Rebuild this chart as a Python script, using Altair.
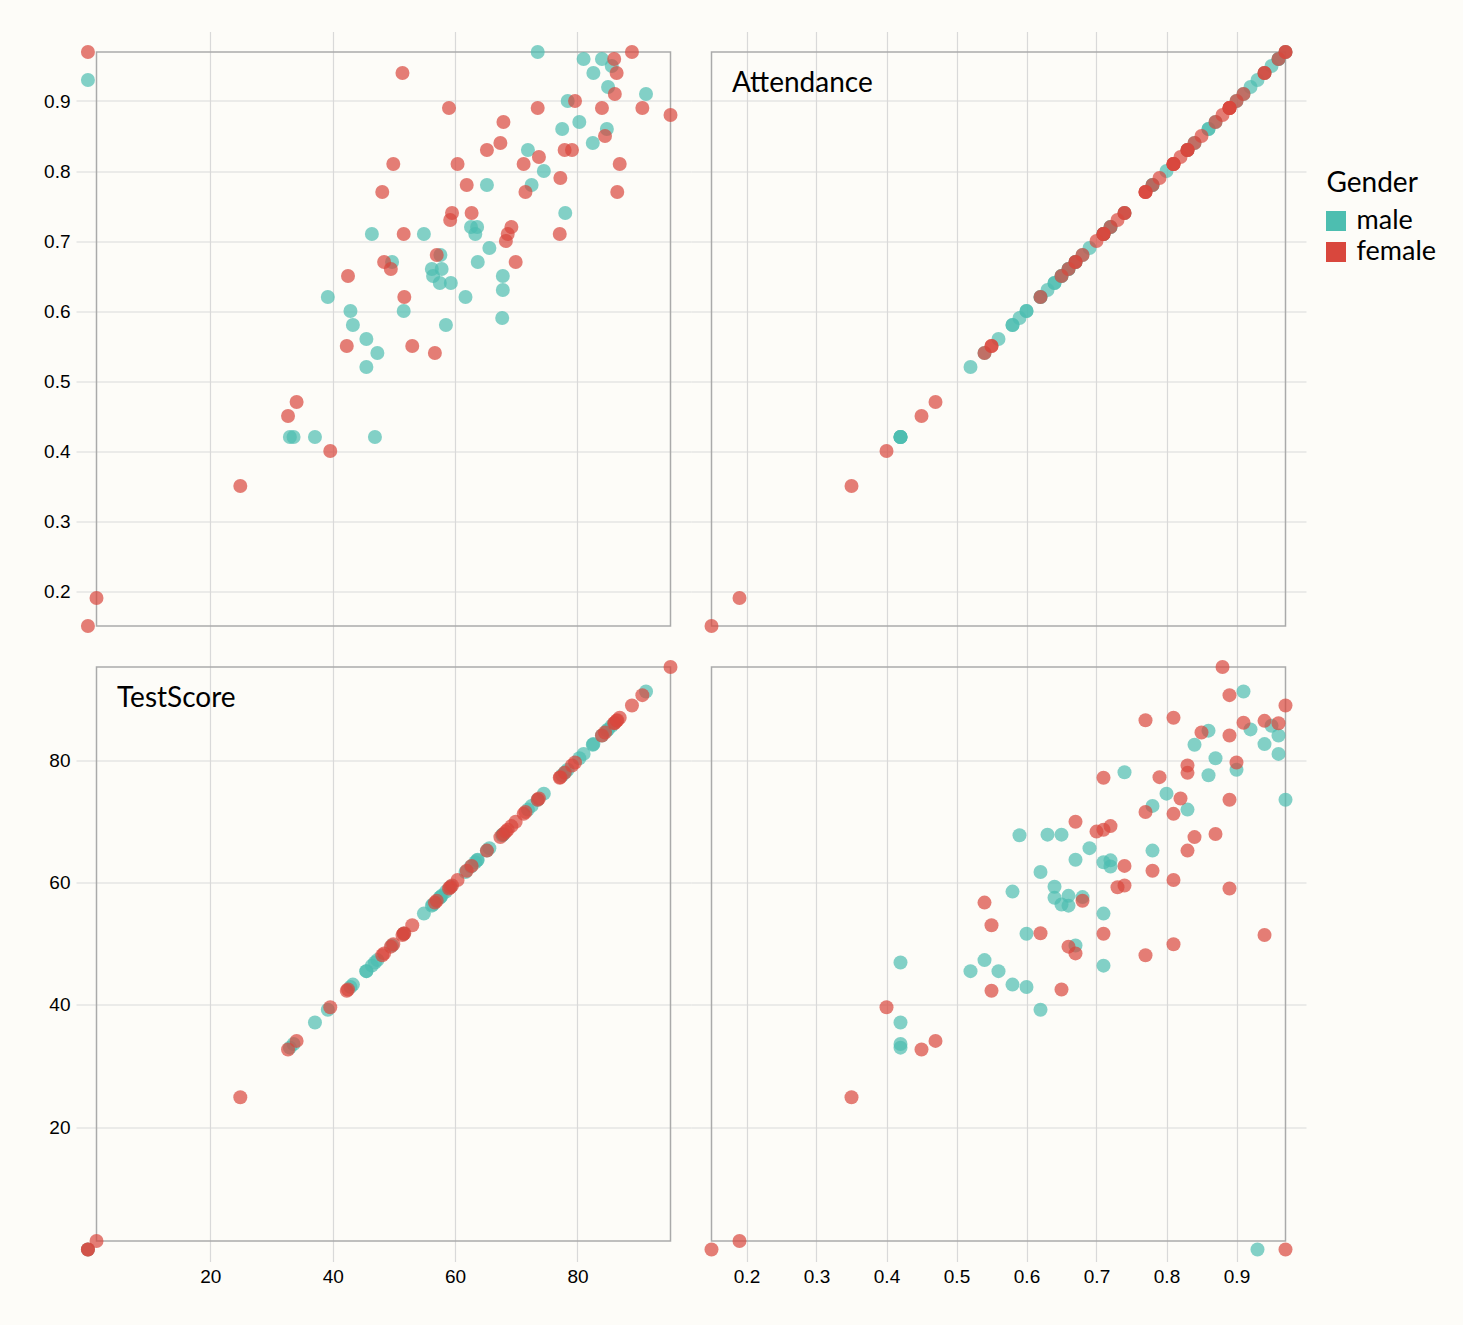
import altair as alt
import pandas as pd

# ---------------- data ----------------
GENDERS = ["male", "female"]

male_ts = [0, 46.4, 39.2, 42.9, 43.3, 45.5, 47.3, 45.5, 33.0, 33.6,
           37.1, 46.9, 73.5, 81.0, 84.0, 85.6, 82.6, 85.0, 91.2, 78.4,
           80.3, 77.5, 84.8, 82.5, 71.9, 74.5, 65.2, 72.5, 78.0, 62.6,
           63.6, 63.3, 54.9, 65.6, 63.7, 57.6, 49.7, 56.2, 57.8, 56.4,
           57.5, 59.3, 67.8, 67.8, 61.7, 51.6, 58.5, 67.7]
male_att = [0.93, 0.71, 0.62, 0.60, 0.58, 0.56, 0.54, 0.52, 0.42, 0.42,
            0.42, 0.42, 0.97, 0.96, 0.96, 0.95, 0.94, 0.92, 0.91, 0.90,
            0.87, 0.86, 0.86, 0.84, 0.83, 0.80, 0.78, 0.78, 0.74, 0.72,
            0.72, 0.71, 0.71, 0.69, 0.67, 0.68, 0.67, 0.66, 0.66, 0.65,
            0.64, 0.64, 0.65, 0.63, 0.62, 0.60, 0.58, 0.59]

female_ts = [0, 48.1, 48.4, 42.5, 42.3, 34.1, 32.7, 39.6, 24.9, 1.4,
             0, 53.0, 56.7, 86.0, 88.9, 86.4, 51.4, 86.1, 79.6, 59.0,
             73.5, 84.0, 90.6, 95.2, 67.9, 84.5, 67.4, 65.2, 77.9, 79.1,
             73.7, 49.9, 60.4, 71.2, 86.9, 77.2, 61.9, 71.5, 86.5, 62.7,
             59.5, 59.2, 69.2, 68.6, 77.1, 51.6, 68.3, 69.9, 57.0, 49.5,
             51.7]
female_att = [0.97, 0.77, 0.67, 0.65, 0.55, 0.47, 0.45, 0.40, 0.35, 0.19,
              0.15, 0.55, 0.54, 0.96, 0.97, 0.94, 0.94, 0.91, 0.90, 0.89,
              0.89, 0.89, 0.89, 0.88, 0.87, 0.85, 0.84, 0.83, 0.83, 0.83,
              0.82, 0.81, 0.81, 0.81, 0.81, 0.79, 0.78, 0.77, 0.77, 0.74,
              0.74, 0.73, 0.72, 0.71, 0.71, 0.71, 0.70, 0.67, 0.68, 0.66,
              0.62]

TS_TICKS = [20, 40, 60, 80]
ATT_TICKS = [0.2, 0.3, 0.4, 0.5, 0.6, 0.7, 0.8, 0.9]

df = pd.DataFrame({
    "TestScore": male_ts + female_ts,
    "Attendance": male_att + female_att,
    "Gender": ["male"] * len(male_ts) + ["female"] * len(female_ts),
})

# ---------------- styling ----------------
CELL = 615
INSET = 20.5
BG = "#fdfcf8"
TEAL = "#4dbeb0"
RED = "#d9473d"
GRID = "#d9d9d9"
FRAME = "#aaaaaa"

all_ts = male_ts + female_ts
all_att = male_att + female_att
# frame = extent of recorded values (zero scores are missing entries)
FRAME_EXT = {
    "TestScore": (min(v for v in all_ts if v > 0), max(all_ts)),
    "Attendance": (min(all_att), max(all_att)),
}
TICKS = {"TestScore": TS_TICKS, "Attendance": ATT_TICKS}


def cell_domain(trait):
    lo, hi = FRAME_EXT[trait]
    ext = (hi - lo) * INSET / (CELL - 2 * INSET)
    return [lo - ext, hi + ext]


def make_axis(trait, show, orient):
    return alt.Axis(
        values=TICKS[trait], title=None, orient=orient,
        grid=True, gridColor=GRID, gridWidth=1.2,
        domain=False, ticks=False, labels=show,
        labelFont="Liberation Sans", labelFontSize=19, labelColor="#000",
        labelPadding=6,
        labelFlush=False, labelOverlap=False,
    )


legend = alt.Legend(
    title="Gender", orient="none", legendX=1250.5, legendY=138,
    symbolType="square", symbolSize=400, symbolOpacity=1, symbolStrokeWidth=0,
    symbolOffset=-4,
    titleFont="Lato", titleFontSize=28, titleFontWeight="normal", titleColor="#000",
    labelFont="Lato", labelFontSize=27, labelColor="#000",
    labelOffset=7, rowPadding=3, titlePadding=10, padding=0,
)


def cell(xt, yt, show_x, show_y, label=None):
    xs = alt.Scale(domain=cell_domain(xt), nice=False, zero=False)
    ys = alt.Scale(domain=cell_domain(yt), nice=False, zero=False)
    xa = make_axis(xt, show_x, "bottom")
    ya = make_axis(yt, show_y, "left")
    fx0, fx1 = FRAME_EXT[xt]
    fy0, fy1 = FRAME_EXT[yt]
    fdf = pd.DataFrame({"x0": [fx0], "x1": [fx1], "y0": [fy0], "y1": [fy1]})
    frame = alt.Chart(fdf).mark_rect(
        fillOpacity=0, stroke=FRAME, strokeWidth=1.5
    ).encode(
        x=alt.X("x0:Q", scale=xs, axis=xa),
        x2="x1:Q",
        y=alt.Y("y0:Q", scale=ys, axis=ya),
        y2="y1:Q",
    )
    pts = alt.Chart(df).mark_circle(size=196, opacity=0.7).encode(
        x=alt.X(f"{xt}:Q", scale=xs, axis=xa),
        y=alt.Y(f"{yt}:Q", scale=ys, axis=ya),
        color=alt.Color("Gender:N",
                        scale=alt.Scale(domain=GENDERS, range=[TEAL, RED]),
                        legend=legend),
    )
    layers = [frame, pts]
    if label:
        lab = alt.Chart(pd.DataFrame({"t": [label]})).mark_text(
            align="left", baseline="alphabetic", font="Lato",
            fontSize=28, color="#000"
        ).encode(text="t:N", x=alt.value(41), y=alt.value(60.5))
        layers.append(lab)
    return alt.layer(*layers).properties(width=CELL, height=CELL)


c11 = cell("TestScore", "Attendance", False, True)
c12 = cell("Attendance", "Attendance", False, False, label="Attendance")
c21 = cell("TestScore", "TestScore", True, True, label="TestScore")
c22 = cell("Attendance", "TestScore", True, False)

chart = alt.concat(
    c11, c12, c21, c22, columns=2, spacing=0, bounds="flush"
).properties(
    padding={"left": 43, "top": 31.5, "right": 26, "bottom": 38},
    background=BG,
).configure_view(strokeWidth=0)

chart.save("out.html", embed_options={"renderer": "svg", "actions": False})
